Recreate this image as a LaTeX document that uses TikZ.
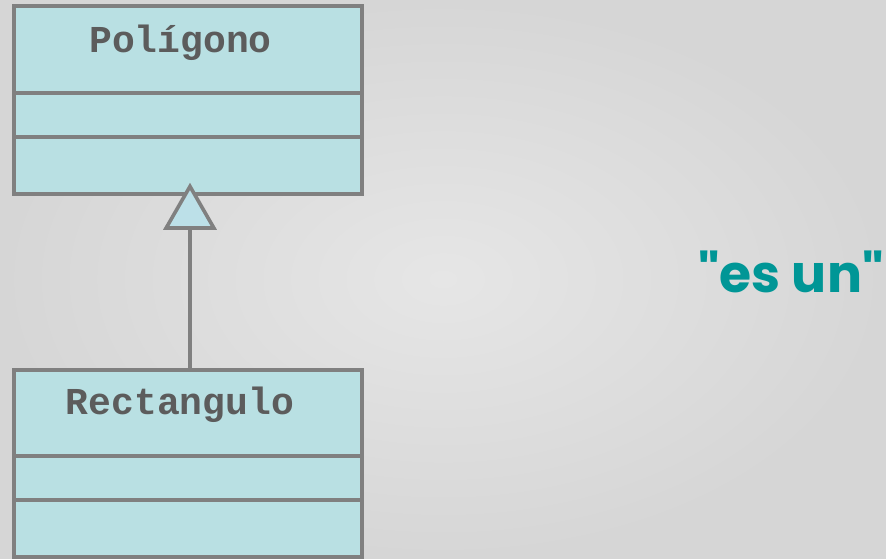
\documentclass[tikz,border=0pt]{standalone}
\usepackage{fontspec}
\usetikzlibrary{arrows.meta,positioning}
\newfontfamily\classfont{Liberation Mono}
\newfontfamily\notefont{Poppins}
\definecolor{umlfill}{RGB}{185,224,227}
\definecolor{tipfill}{RGB}{188,224,232}
\definecolor{umlline}{RGB}{128,128,128}
\definecolor{umltext}{RGB}{92,92,92}
\definecolor{noteteal}{RGB}{0,150,150}
\definecolor{bgin}{RGB}{230,230,230}
\definecolor{bgout}{RGB}{214,214,214}
\tikzset{
  part/.style={draw=umlline,fill=umlfill,line width=3.8pt,minimum width=348pt,inner sep=0pt,outer sep=0pt},
  classname/.style={text=umltext,font=\classfont\bfseries\fontsize{38}{38}\selectfont,inner sep=0pt,anchor=base},
  note/.style={text=noteteal,font=\notefont\bfseries\fontsize{52}{52}\selectfont,inner sep=0pt,anchor=base},
}
\begin{document}
\begin{tikzpicture}[x=1pt,y=-1pt,line join=miter]
  \path[use as bounding box,inner color=bgin,outer color=bgout] (0,0) rectangle (886,558);
  % superclass
  \node[part,minimum height=86.5pt] (polihead) at (188,49.5) {};
  \node[part,minimum height=44pt,below=0pt of polihead] (poliattr) {};
  \node[part,minimum height=57pt,below=0pt of poliattr] (polimeth) {};
  \node[classname] (poliname) at (180.5,52) {Polígono};
  % subclass
  \node[part,minimum height=86pt] (recthead) at (188,413) {};
  \node[part,minimum height=44pt,below=0pt of recthead] (rectattr) {};
  \node[part,minimum height=57pt,below=0pt of rectattr] (rectmeth) {};
  \node[classname] (rectname) at (180,414) {Rectangulo};
  % generalization
  \draw[umlline,line width=3.6pt,shorten >=-11pt,-{Triangle[length=47pt,width=53pt,fill=tipfill]}]
    (recthead.north -| 190,0) -- (polimeth.south -| 190,0);
  \node[note] (isa) at (791,292) {"es un"};
\end{tikzpicture}
\end{document}
